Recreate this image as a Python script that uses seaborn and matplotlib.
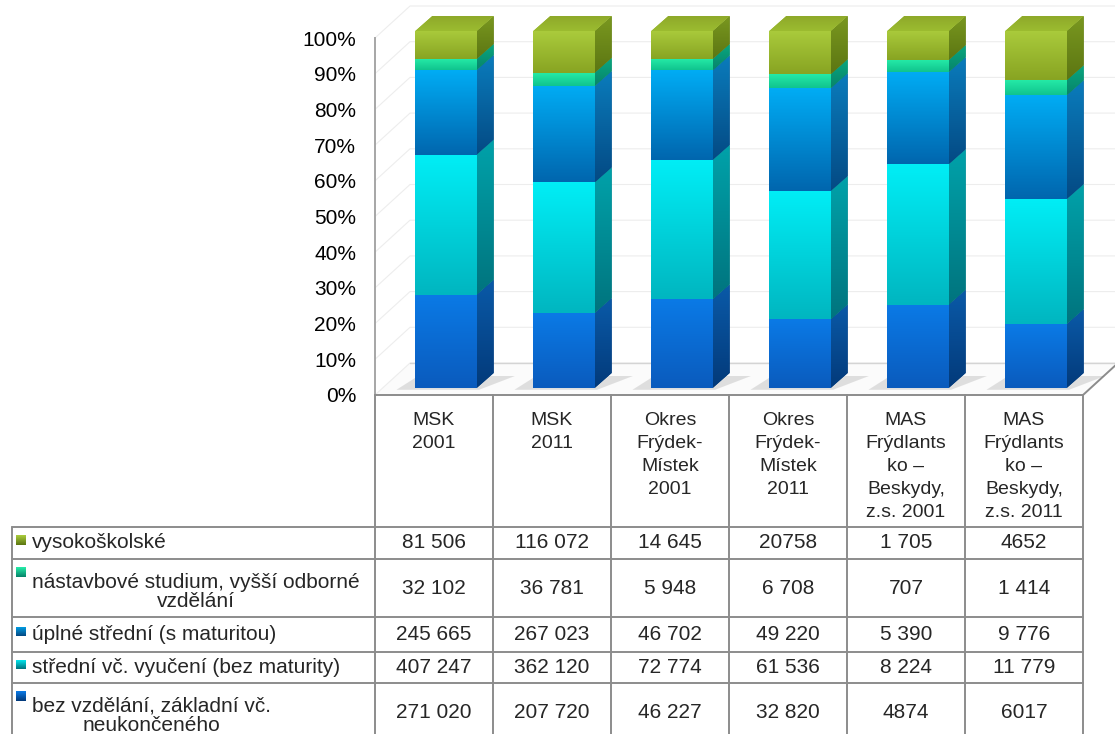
"""
Vzdělanostní struktura obyvatel - 100% skládaný sloupcový graf (3D vzhled) s tabulkou dat.
"""

import numpy as np
import pandas as pd
import matplotlib
matplotlib.use("Agg")
import matplotlib.pyplot as plt
import seaborn as sns
from matplotlib.colors import LinearSegmentedColormap
from matplotlib.patches import Polygon
from matplotlib.lines import Line2D

# Data (pořadí skupin odspodu nahoru)
kategorie = ["MSK\n2001", "MSK\n2011", "Okres\nFrýdek-\nMístek\n2001", "Okres\nFrýdek-\nMístek\n2011",
             "MAS\nFrýdlants\nko –\nBeskydy,\nz.s. 2001", "MAS\nFrýdlants\nko –\nBeskydy,\nz.s. 2011"]

skupiny = ["bez vzdělání, základní vč.\nneukončeného",
           "střední vč. vyučení (bez maturity)",
           "úplné střední (s maturitou)",
           "nástavbové studium, vyšší odborné\nvzdělání",
           "vysokoškolské"]

bez_vzdelani = ["271 020", "207 720", "46 227", "32 820", "4874", "6017"]
stredni_vyuceni = ["407 247", "362 120", "72 774", "61 536", "8 224", "11 779"]
uplne_stredni = ["245 665", "267 023", "46 702", "49 220", "5 390", "9 776"]
nastavbove = ["32 102", "36 781", "5 948", "6 708", "707", "1 414"]
vysokoskolske = ["81 506", "116 072", "14 645", "20758", "1 705", "4652"]

radky = [bez_vzdelani, stredni_vyuceni, uplne_stredni, nastavbove, vysokoskolske]

# barvy: (přední horní, přední dolní, bok horní, bok dolní)
barvy = [("#0b7ae6", "#0a5bbd", "#0a5aa8", "#033a7a"),
         ("#00eef6", "#00b6c0", "#00a2aa", "#00747e"),
         ("#00acf4", "#0066ae", "#0a7cbc", "#044a84"),
         ("#26eca8", "#10c48e", "#0aa880", "#07846a"),
         ("#aacb3c", "#88a422", "#7a9820", "#5c7612")]

# Tabulka pro seaborn
zaznamy = []
for skupina, hodnoty in zip(skupiny, radky):
    for kat, txt in zip(kategorie, hodnoty):
        zaznamy.append({"skupina": skupina, "kategorie": kat, "text": txt})
df = pd.DataFrame(zaznamy)
df["hodnota"] = df["text"].str.replace(" ", "").astype(int)
df["podil"] = df["hodnota"] / df.groupby("kategorie")["hodnota"].transform("sum") * 100
df["spodek"] = df.groupby("kategorie")["podil"].cumsum() - df["podil"]

# Rozměry (pixely)
W, H = 1115, 734
PX_X = 118.0   # px na kategorii
PX_Y = 3.57    # px na 1 %
osa_x0, osa_y0 = 375, 395

def fx(px):
    return px / W

def fy(py):
    return 1 - py / H

xoff = 12 / PX_X
lift = 7 / PX_Y
bdx, bdy = 17 / PX_X, 15 / PX_Y
fdx, fdy = 35 / PX_X, 32 / PX_Y

sns.set_style("white")
plt.rcParams["font.family"] = ["Liberation Sans", "DejaVu Sans"]

fig = plt.figure(figsize=(W / 100, H / 100), dpi=100)
ax = fig.add_axes([fx(osa_x0), fy(osa_y0), (W - osa_x0) / W, 110 * PX_Y / H])


def prechod(verts, c_hore, c_dole, z, clip=None):
    xs = [v[0] for v in verts]
    ys = [v[1] for v in verts]
    if clip is None:
        clip = Polygon(verts, closed=True, facecolor=c_dole, edgecolor="none", zorder=z)
        ax.add_patch(clip)
    cmap = LinearSegmentedColormap.from_list("p", [c_dole, c_hore])
    obr = ax.imshow(np.linspace(0, 1, 100).reshape(-1, 1), cmap=cmap, origin="lower",
                    extent=(min(xs), max(xs), min(ys), max(ys)), aspect="auto",
                    interpolation="bilinear", zorder=z + 0.1)
    obr.set_clip_path(clip)


# Stěny a podlaha
ax.add_patch(Polygon([(-0.5, 0), (5.5, 0), (5.5 + fdx, fdy), (-0.5 + fdx, fdy)],
                     closed=True, facecolor="#fbfbfb", edgecolor="none", zorder=1))
for t in range(0, 101, 10):
    ax.plot([-0.5, -0.5 + fdx, 5.5 + fdx], [t, t + fdy, t + fdy], color="#ededed", lw=0.8, zorder=1)
ax.plot([-0.5 + fdx, 5.5 + fdx], [fdy, fdy], color="#d4d4d4", lw=1.0, zorder=1.2)
ax.plot([5.5, 5.5 + fdx], [0, fdy], color="#8c8c8c", lw=1.4, zorder=1.2, clip_on=False)

# Sloupce
for i, skupina in enumerate(skupiny):
    sub = df[df["skupina"] == skupina]
    n0 = len(ax.patches)
    sns.barplot(data=sub, x="kategorie", y="podil", order=kategorie, color=barvy[i][1],
                saturation=1, width=0.52, errorbar=None, ax=ax, zorder=3)
    nove = list(ax.patches[n0:])
    for patch, (_, r) in zip(nove, sub.iterrows()):
        patch.set_x(patch.get_x() + xoff)
        patch.set_y(r["spodek"] + lift)
        patch.set_height(r["podil"])
        patch.set_edgecolor("none")
        patch.set_linewidth(0)
        xl, xr = patch.get_x(), patch.get_x() + patch.get_width()
        yb, yt = r["spodek"] + lift, r["spodek"] + r["podil"] + lift
        c1, c2, c3, c4 = barvy[i]
        prechod([(xl, yb), (xr, yb), (xr, yt), (xl, yt)], c1, c2, 3, clip=patch)
        prechod([(xr, yb), (xr + bdx, yb + bdy), (xr + bdx, yt + bdy), (xr, yt)], c3, c4, 3)
        if i == 0:
            # stín na podlaze
            ax.add_patch(Polygon([(xl - 0.16, yb - 0.5), (xr + 0.02, yb - 0.5),
                                  (xr + bdx + 0.18, yb + bdy * 0.8), (xl + bdx - 0.12, yb + bdy * 0.8)],
                                 closed=True, facecolor="#7a7a7a", alpha=0.22, edgecolor="none", zorder=2))
        if i == len(skupiny) - 1:
            prechod([(xl, yt), (xr, yt), (xr + bdx, yt + bdy), (xl + bdx, yt + bdy)],
                    "#8ea92a", "#9cbc30", 5)

ax.set_xlim(-0.5, -0.5 + (W - osa_x0) / PX_X)
ax.set_ylim(0, 110)
ax.set_xticks([])
ax.set_yticks(range(0, 101, 10))
ax.set_yticklabels([f"{t}%" for t in range(0, 101, 10)], fontsize=15, color="black")
ax.tick_params(axis="y", length=0, pad=13.5)
ax.set_xlabel("")
ax.set_ylabel("")
for s in ["top", "right", "bottom"]:
    ax.spines[s].set_visible(False)
ax.spines["left"].set_color("#a6a6a6")
ax.spines["left"].set_linewidth(1.4)
ax.spines["left"].set_bounds(0, 100)
ax.patch.set_alpha(0)

# Tabulka dat
car = "#8c8c8c"
sloupce_px = [osa_x0 + PX_X * k for k in range(7)]
radky_px = [527, 559, 617, 652, 683, 741]
levy_px = 12

def cara(x0, y0, x1, y1):
    fig.add_artist(Line2D([fx(x0), fx(x1)], [fy(y0), fy(y1)], color=car, lw=1.4))

cara(sloupce_px[0], osa_y0, sloupce_px[-1], osa_y0)
for xp in sloupce_px:
    cara(xp, osa_y0, xp, H + 5)
for yp in radky_px[:-1]:
    cara(levy_px, yp, sloupce_px[-1], yp)
cara(levy_px, radky_px[0], levy_px, H + 5)

for k, kat in enumerate(kategorie):
    fig.text(fx((sloupce_px[k] + sloupce_px[k + 1]) / 2), fy(412), kat, ha="center", va="top",
             fontsize=14, linespacing=1.46)

poradi = list(range(len(skupiny)))[::-1]
for j, i in enumerate(poradi):
    y0, y1 = radky_px[j], radky_px[j + 1]
    yc = (y0 + y1) / 2
    dva = "\n" in skupiny[i]
    fig.text(fx(32), fy(yc + (4 if dva else 0)), skupiny[i], ha="left", va="center",
             multialignment="center", fontsize=15, linespacing=1.0)
    yk = yc - 16 if dva else yc - 3
    c1, c2, c3, c4 = barvy[i]
    kl = fig.add_axes([fx(16), fy(yk + 5), 10 / W, 10 / H])
    kl.imshow(np.linspace(0, 1, 20).reshape(-1, 1), origin="lower", aspect="auto",
              cmap=LinearSegmentedColormap.from_list("k", [c4, c1]))
    kl.set_axis_off()
    for k, txt in enumerate(radky[i]):
        fig.text(fx((sloupce_px[k] + sloupce_px[k + 1]) / 2), fy(yc), txt, ha="center", va="center",
                 fontsize=15)

fig.savefig("out.png", dpi=100)
